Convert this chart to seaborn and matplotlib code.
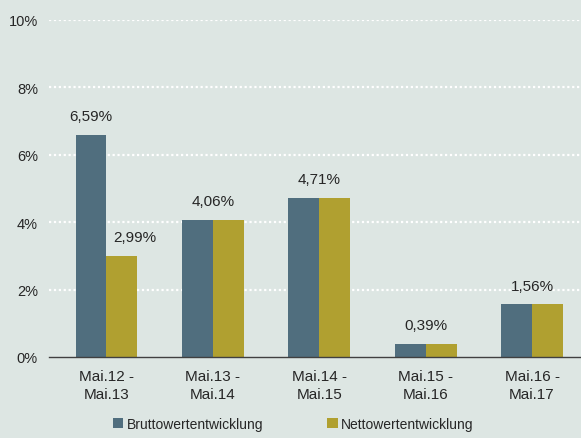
#!/usr/bin/env python3

import seaborn as sns
import matplotlib.pyplot as plt
import pandas

# Data
periods = ["Mai.12 -\nMai.13", "Mai.13 -\nMai.14", "Mai.14 -\nMai.15",
           "Mai.15 -\nMai.16", "Mai.16 -\nMai.17"]
brutto = [6.59, 4.06, 4.71, 0.39, 1.56]
netto = [2.99, 4.06, 4.71, 0.39, 1.56]
series = ["Bruttowertentwicklung", "Nettowertentwicklung"]
yticks = [0, 2, 4, 6, 8, 10]

bg = "#dde6e3"
colors = ["#506e7e", "#b0a030"]

sns.set_theme(style="white")
plt.rcParams["font.family"] = ["Liberation Sans Narrow", "Liberation Sans", "DejaVu Sans"]


def fmt(v):
    return "{:.2f}%".format(v).replace(".", ",")


def main():
    df = pandas.DataFrame({
        "period": periods * 2,
        "value": brutto + netto,
        "series": [series[0]] * len(periods) + [series[1]] * len(periods),
    })

    fig = plt.figure(figsize=(5.81, 4.39), dpi=100, facecolor=bg)
    ax = fig.add_axes([49 / 581, 1 - 358 / 439, 532 / 581, (358 - 21) / 439])
    ax.set_facecolor(bg)

    sns.barplot(data=df, x="period", y="value", hue="series", palette=colors,
                width=0.58, linewidth=0, saturation=1, ax=ax, legend=True)

    ax.set_xlim(-0.54, 4.46)
    ax.set_ylim(0, 10)
    ax.set_yticks(yticks)
    ax.set_yticklabels([f"{t}%" for t in yticks], fontsize=10.5)
    ax.tick_params(axis="x", labelsize=11, length=0, pad=9)
    ax.tick_params(axis="y", length=0, pad=8)
    for lab in ax.get_xticklabels():
        lab.set_linespacing(1.3)
    ax.set_xlabel("")
    ax.set_ylabel("")

    for t in yticks[1:]:
        ax.axhline(t, color="white", linestyle=(0, (1, 1.2)), linewidth=1.6, zorder=0)

    for side in ["top", "right", "left"]:
        ax.spines[side].set_visible(False)
    ax.spines["bottom"].set_color("#404040")
    ax.spines["bottom"].set_linewidth(1)

    # value labels: one per pair if equal, otherwise one per bar
    off = 0.145
    for i, (b, n) in enumerate(zip(brutto, netto)):
        if b == n:
            ax.text(i, b + 0.35, fmt(b), ha="center", va="bottom", fontsize=11)
        else:
            ax.text(i - off, b + 0.35, fmt(b), ha="center", va="bottom", fontsize=11)
            ax.text(i + off + 0.12, n + 0.35, fmt(n), ha="center", va="bottom", fontsize=11)

    handles, labels = ax.get_legend_handles_labels()
    ax.get_legend().remove()
    fig.legend(handles, labels, loc="lower center", bbox_to_anchor=(0.505, -0.012),
               ncol=2, frameon=False, fontsize=10, handlelength=0.75,
               handleheight=0.75, handletextpad=0.25, columnspacing=4.6)

    fig.savefig("out.png", dpi=100, facecolor=bg)


if __name__ == "__main__":
    main()
